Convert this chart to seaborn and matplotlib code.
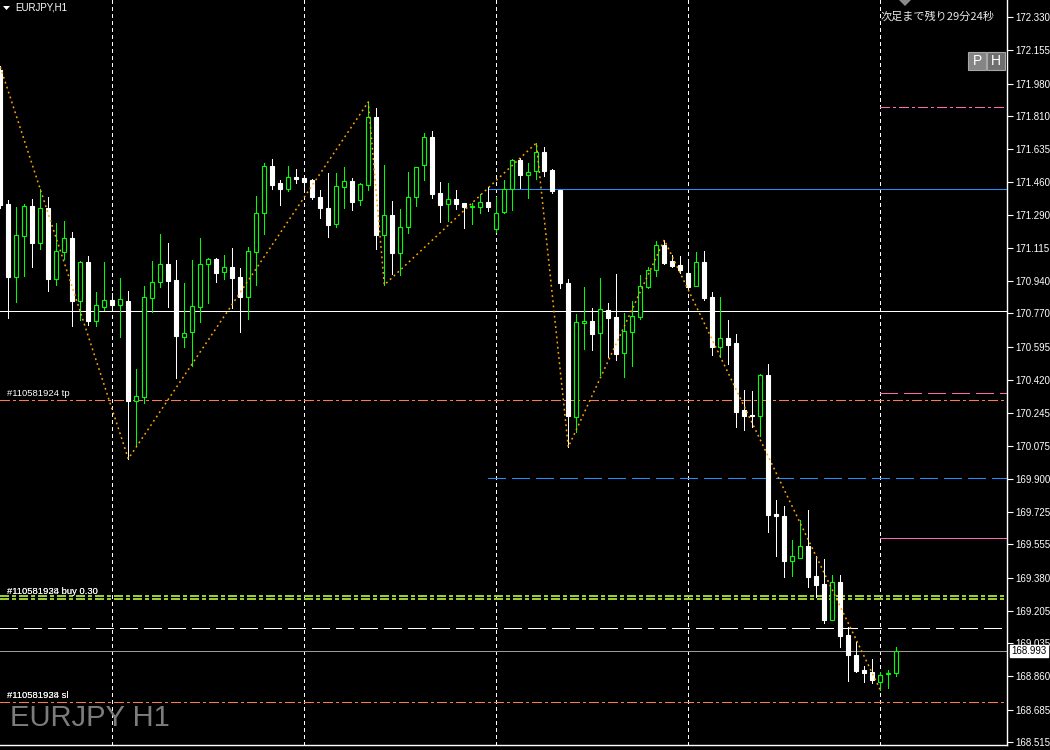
import matplotlib
matplotlib.use("Agg")
import matplotlib.pyplot as plt
from matplotlib.patches import Rectangle, Polygon
import numpy as np
import pandas as pd
import seaborn as sns

# EURJPY H1 bars, oldest first
opens = [172.051, 171.346, 170.962, 171.178, 171.336, 171.141, 171.325, 170.951, 171.093, 171.167,
         170.836, 171.041, 170.730, 170.804, 170.841, 170.815, 170.836, 170.309, 170.330, 170.851,
         170.936, 171.030, 170.946, 170.646, 170.673, 170.804, 171.030, 171.057, 170.988, 171.015,
         170.962, 170.857, 171.093, 171.299, 171.546, 171.457, 171.425, 171.488, 171.483, 171.472,
         171.383, 171.325, 171.241, 171.435, 171.467, 171.367, 171.446, 171.804, 171.183, 171.288,
         171.088, 171.225, 171.383, 171.551, 171.699, 171.404, 171.346, 171.372, 171.351, 171.330,
         171.330, 171.357, 171.214, 171.304, 171.425, 171.578, 171.499, 171.520, 171.620, 171.525,
         171.420, 170.930, 170.225, 170.720, 170.730, 170.667, 170.788, 170.751, 170.562, 170.673,
         170.751, 170.909, 170.999, 171.130, 171.046, 171.025, 170.983, 170.915, 171.041, 170.857,
         170.594, 170.641, 170.615, 170.262, 170.236, 170.230, 170.446, 169.715, 169.704, 169.467,
         169.483, 169.547, 169.389, 169.346, 169.157, 169.357, 169.078, 168.973, 168.894, 168.883,
         168.831, 168.873, 168.878]
highs = [172.072, 171.367, 171.330, 171.346, 171.372, 171.425, 171.383, 171.246, 171.257, 171.199,
         171.046, 171.072, 170.883, 171.041, 170.878, 170.957, 170.888, 170.478, 170.915, 171.046,
         171.188, 171.141, 171.051, 170.930, 171.051, 171.167, 171.062, 171.062, 171.078, 171.115,
         171.009, 171.120, 171.388, 171.562, 171.583, 171.472, 171.546, 171.530, 171.499, 171.478,
         171.420, 171.509, 171.509, 171.541, 171.483, 171.457, 171.883, 171.851, 171.551, 171.362,
         171.320, 171.514, 171.541, 171.720, 171.730, 171.462, 171.457, 171.420, 171.351, 171.351,
         171.399, 171.435, 171.383, 171.472, 171.583, 171.588, 171.562, 171.667, 171.646, 171.530,
         171.420, 170.951, 170.767, 170.909, 170.799, 170.957, 170.825, 170.978, 170.772, 170.836,
         170.972, 171.015, 171.151, 171.157, 171.078, 171.072, 171.036, 171.093, 171.099, 170.883,
         170.857, 170.736, 170.662, 170.367, 170.362, 170.452, 170.504, 169.789, 169.757, 169.578,
         169.683, 169.736, 169.494, 169.478, 169.394, 169.394, 169.120, 169.041, 168.915, 168.952,
         168.883, 168.894, 169.015]
lows = [171.325, 170.746, 170.830, 170.967, 171.015, 171.109, 170.888, 170.920, 171.057, 170.704,
        170.736, 170.709, 170.704, 170.788, 170.788, 170.646, 170.005, 170.078, 170.299, 170.778,
        170.909, 170.804, 170.430, 170.594, 170.494, 170.725, 170.825, 170.936, 170.951, 170.799,
        170.673, 170.741, 170.920, 171.188, 171.425, 171.341, 171.414, 171.457, 171.420, 171.372,
        171.272, 171.172, 171.225, 171.325, 171.314, 171.341, 171.420, 171.109, 170.920, 170.978,
        170.972, 171.193, 171.336, 171.472, 171.378, 171.251, 171.257, 171.320, 171.220, 171.241,
        171.299, 171.309, 171.199, 171.299, 171.314, 171.430, 171.378, 171.478, 171.493, 171.404,
        170.904, 170.067, 170.146, 170.583, 170.578, 170.446, 170.541, 170.525, 170.436, 170.494,
        170.741, 170.904, 170.967, 171.030, 171.015, 170.983, 170.893, 170.915, 170.841, 170.551,
        170.541, 170.504, 170.173, 170.157, 170.173, 170.125, 169.620, 169.494, 169.383, 169.389,
        169.483, 169.331, 169.278, 169.141, 169.157, 169.015, 168.836, 168.883, 168.831, 168.825,
        168.789, 168.799, 168.862]
closes = [171.341, 170.962, 171.183, 171.336, 171.141, 171.325, 170.951, 171.099, 171.167, 170.836,
          171.041, 170.730, 170.815, 170.841, 170.815, 170.846, 170.309, 170.336, 170.857, 170.936,
          171.030, 170.941, 170.651, 170.667, 170.809, 171.030, 171.057, 170.983, 171.015, 170.957,
          170.857, 171.099, 171.299, 171.546, 171.446, 171.425, 171.488, 171.478, 171.462, 171.383,
          171.325, 171.236, 171.441, 171.467, 171.357, 171.451, 171.804, 171.183, 171.288, 171.088,
          171.225, 171.383, 171.541, 171.699, 171.399, 171.341, 171.372, 171.346, 171.330, 171.336,
          171.357, 171.330, 171.299, 171.425, 171.578, 171.499, 171.514, 171.620, 171.520, 171.414,
          170.930, 170.230, 170.725, 170.730, 170.662, 170.794, 170.746, 170.557, 170.678, 170.757,
          170.915, 170.999, 171.130, 171.036, 171.020, 170.999, 170.909, 171.041, 170.851, 170.594,
          170.641, 170.604, 170.252, 170.230, 170.230, 170.446, 169.710, 169.704, 169.467, 169.494,
          169.547, 169.383, 169.341, 169.157, 169.357, 169.073, 168.973, 168.889, 168.878, 168.841,
          168.868, 168.878, 168.993]

# zigzag pivots
zz_bars = [0, 16, 46, 48, 67, 71, 83, 110]
zz_prices = [172.067, 170.005, 171.883, 170.920, 171.667, 170.067, 171.157, 168.789]

# horizontal level lines: price, first bar, colour, kind
level_prices = [171.856, 171.423, 170.783, 170.351, 170.315, 169.905, 169.589,
                169.283, 169.267, 169.115, 168.993, 168.725]
level_start = [110, 61, 0, 110, 0, 61, 110, 0, 0, 0, 0, 0]
level_colors = ["#ff69b4", "#1e90ff", "white", "#ff69b4", "#ff7a45", "#1e90ff", "#ff69b4",
                "#9acd32", "#9acd32", "white", "#9a9a9a", "#ff7a45"]
level_kinds = ["dashdot", "solid", "solid", "dashed", "dashdot", "dashed", "solid",
               "dashdot2", "dashdot2", "dashed", "solid", "dashdot"]

y_ticks = [172.330, 172.155, 171.980, 171.810, 171.635, 171.460, 171.290, 171.115,
           170.940, 170.770, 170.595, 170.420, 170.245, 170.075, 169.900, 169.725,
           169.555, 169.380, 169.205, 169.035, 168.860, 168.685, 168.515]
grid_bars = [14, 38, 62, 86, 110]
bid = 168.993

df = pd.DataFrame({"open": opens, "high": highs, "low": lows, "close": closes})
df["bar"] = np.arange(len(df))
df["bull"] = df["close"] >= df["open"]

sns.set_style("dark", {"axes.facecolor": "black", "figure.facecolor": "black"})
plt.rcParams["font.family"] = ["Liberation Sans", "DejaVu Sans"]

W, H = 1050, 750
fig = plt.figure(figsize=(10.5, 7.5), dpi=100)
fig.patch.set_facecolor("black")
ax = fig.add_axes([0, 5 / H, 1007 / W, 745 / H])
ax.set_facecolor("black")
ax.grid(False)

x_left, x_right = -0.04, 125.84
ax.set_xlim(x_left, x_right)
ax.set_ylim(168.499, 172.4195)


def dash(px, lw):
    # dash pattern given in pixels
    return (0, tuple(v * 0.72 / lw for v in px))


# vertical grid
for g in grid_bars:
    ax.axvline(g, color="white", lw=0.7, ls=dash((3, 3), 0.7), zorder=1, antialiased=False)

# level lines
for p, s, c, k in zip(level_prices, level_start, level_colors, level_kinds):
    lw = 1.1 if k == "dashdot2" else 0.7
    if k == "solid":
        ls = "-"
    elif k == "dashed":
        ls = dash((18, 6), lw)
    elif k == "dashdot":
        ls = dash((10, 3, 2, 3), lw)
    else:
        ls = dash((9, 3, 3, 3), lw)
    x0 = x_left if s == 0 else s
    ax.hlines(p, x0, x_right, colors=c, linewidth=lw, linestyles=[ls], zorder=2,
              antialiased=False)

# wicks
wick_col = np.where(df["bull"], "#00ff00", "white")
ax.vlines(df["bar"], df["low"], df["high"], colors=wick_col, linewidth=0.7, zorder=3,
          antialiased=False)

# bodies
body_h = (df["close"] - df["open"]).abs().clip(lower=0.0015)
body_b = df[["open", "close"]].min(axis=1)
face = np.where(df["bull"], "black", "white")
ax.bar(df["bar"], body_h, bottom=body_b, width=0.52, color=face,
       edgecolor=wick_col, linewidth=0.8, zorder=4)

# zigzag
sns.lineplot(x=zz_bars, y=zz_prices, ax=ax, color="#ffa500", linewidth=1.1,
             linestyle=(0, (1.2, 2.2)), zorder=5)

# axes cosmetics
for side in ["left", "top"]:
    ax.spines[side].set_visible(False)
for side in ["right", "bottom"]:
    ax.spines[side].set_visible(True)
    ax.spines[side].set_color("white")
    ax.spines[side].set_linewidth(1.0)
ax.set_xticks([])
ax.yaxis.tick_right()
ax.set_yticks(y_ticks)
ax.set_yticklabels([f"{t:.3f}" for t in y_ticks])
ax.tick_params(axis="y", colors="white", labelcolor="white", length=4, width=0.8,
               labelsize=7, pad=2, direction="out")
ax.set_xlabel("")
ax.set_ylabel("")

ax.annotate(f"{bid:.3f}", xy=(1.0, bid), xycoords=("axes fraction", "data"),
            xytext=(3, 0), textcoords="offset points", ha="left", va="center",
            fontsize=7, color="black",
            bbox=dict(boxstyle="square,pad=0.12", fc="white", ec="white"))


def px(x, y):
    return (x / W, 1 - y / H)


# header
fig.patches.append(Polygon([px(3, 6), px(10, 6), px(6.5, 10)], closed=True,
                           transform=fig.transFigure, fc="white", ec="none"))
fig.text(*px(15, 8), "EURJPY,H1", color="white", fontsize=7, va="center", ha="left")
fig.patches.append(Polygon([px(899, 0), px(911, 0), px(905, 6)], closed=True,
                           transform=fig.transFigure, fc="#8a8a8a", ec="none"))
fig.text(*px(881, 17), "次足まで残り29分24秒", color="#e8e8e8", fontsize=8,
         va="center", ha="left", family=["Noto Sans CJK JP", "DejaVu Sans"])

# P / H buttons
for x0, letter, fc in [(968, "P", "#858585"), (987, "H", "#6f6f6f")]:
    fig.patches.append(Rectangle(px(x0, 70), 18 / W, 18 / H, transform=fig.transFigure,
                                 fc=fc, ec="#a8a8a8", lw=0.8))
    fig.text(*px(x0 + 9, 61), letter, color="white", fontsize=10, ha="center", va="center")

# order labels
fig.text(*px(7, 394), "#110581924 tp", color="white", fontsize=6.8, va="center")
fig.text(*px(7, 591), "#110581924 buy 0.30", color="white", fontsize=6.8, va="center")
fig.text(*px(7, 591), "#110581938 buy 0.30", color="white", fontsize=6.8, va="center", alpha=0.85)
fig.text(*px(7, 696), "#110581924 sl", color="white", fontsize=6.8, va="center")
fig.text(*px(7, 696), "#110581938 sl", color="white", fontsize=6.8, va="center", alpha=0.85)

# watermark
fig.text(*px(10, 718), "EURJPY H1", color="#7c7c7c", fontsize=21, va="center", ha="left")

fig.savefig("out.png", dpi=100, facecolor="black")
